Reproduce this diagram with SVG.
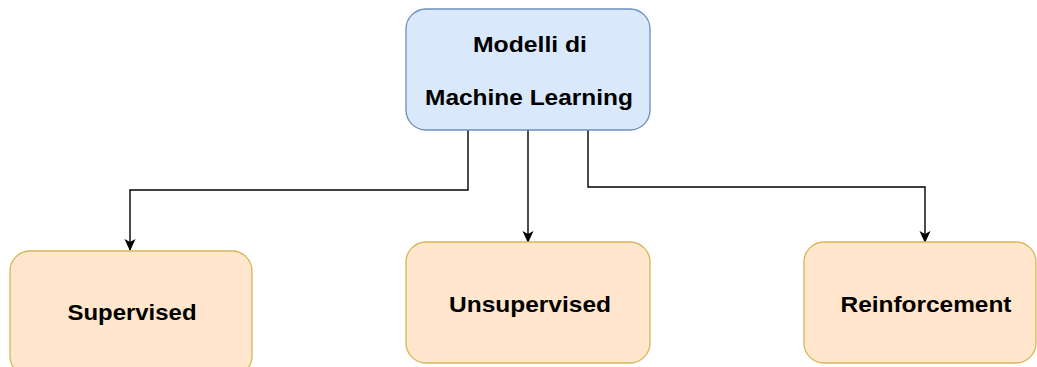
<svg xmlns="http://www.w3.org/2000/svg" width="1037" height="367" viewBox="0 0 1037 367">
<style>
.root{fill:#dae8fc;stroke:#6c8ebf;stroke-width:1.3}
.leaf{fill:#ffe6cc;stroke:#d6b656;stroke-width:1.3}
.lbl{font-family:"Liberation Sans",Arial,sans-serif;font-weight:bold;font-size:22px;fill:#000;text-anchor:middle}
.edge{fill:none;stroke:#000;stroke-width:1.4}
</style>
<defs>
<marker id="arr" viewBox="0 0 12 12" refX="11" refY="6" markerWidth="12" markerHeight="12" markerUnits="userSpaceOnUse" orient="auto">
<path d="M0,0.5 L12,6 L0,11.5 L3,6 Z" fill="#000"/>
</marker>
</defs>
<g id="connectors">
<path class="edge" d="M468,130 V190 H130 V250" marker-end="url(#arr)"/>
<path class="edge" d="M528,130 V242" marker-end="url(#arr)"/>
<path class="edge" d="M588,130 V187 H925 V242" marker-end="url(#arr)"/>
</g>
<g id="node-root">
<rect class="root" x="406" y="9" width="244" height="121" rx="20"/>
<text class="lbl" x="530" y="52" textLength="114" lengthAdjust="spacingAndGlyphs">Modelli di</text>
<text class="lbl" x="529" y="105" textLength="208" lengthAdjust="spacingAndGlyphs">Machine Learning</text>
</g>
<g id="node-supervised">
<rect class="leaf" x="10" y="251" width="242" height="125" rx="20"/>
<text class="lbl" x="132" y="320" textLength="129" lengthAdjust="spacingAndGlyphs">Supervised</text>
</g>
<g id="node-unsupervised">
<rect class="leaf" x="406" y="242" width="244" height="121" rx="20"/>
<text class="lbl" x="530" y="312" textLength="162" lengthAdjust="spacingAndGlyphs">Unsupervised</text>
</g>
<g id="node-reinforcement">
<rect class="leaf" x="804" y="242" width="232" height="121" rx="20"/>
<text class="lbl" x="926" y="312" textLength="171" lengthAdjust="spacingAndGlyphs">Reinforcement</text>
</g>
</svg>
